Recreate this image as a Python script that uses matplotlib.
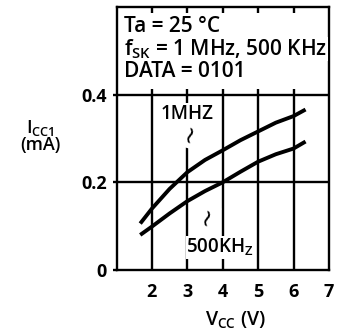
import matplotlib
matplotlib.use('Agg')
import matplotlib.pyplot as plt

plt.rcParams['font.family'] = ['Open Sans', 'DejaVu Sans']

# values
vcc = [1.67, 2.0, 2.5, 3.0, 3.5, 4.0, 4.5, 5.0, 5.5, 6.0, 6.34]
icc_1mhz = [0.106, 0.140, 0.185, 0.223, 0.251, 0.273, 0.296, 0.316, 0.336, 0.351, 0.366]
icc_500khz = [0.080, 0.099, 0.129, 0.157, 0.180, 0.200, 0.224, 0.247, 0.264, 0.277, 0.293]
xticks = [2, 3, 4, 5, 6, 7]
yticks = [0, 0.2, 0.4]
ytick_labels = ['0', '0.2', '0.4']
conditions = ['Ta = 25 °C', r'f$_{\mathregular{SK}}$ = 1 MHz, 500 KHz', 'DATA = 0101']

fig = plt.figure(figsize=(3.37, 3.36), dpi=100)
ax = fig.add_axes([0.3457, 0.1964, 0.6303, 0.783])
ax.set_xlim(1, 7)
ax.set_ylim(0, 0.6)

# grid: vertical lines only below 0.4, short marks above it and under the top edge
ax.vlines(xticks[:-1], 0, 0.413, color='black', lw=1.7, zorder=1)
ax.vlines(xticks[:-1], 0.587, 0.6, color='black', lw=1.7, zorder=1)
ax.hlines([0.2, 0.4], 1, 7, color='black', lw=1.7, zorder=1)

ax.plot(vcc, icc_1mhz, color='black', lw=2.8, solid_capstyle='butt', zorder=3)
ax.plot(vcc, icc_500khz, color='black', lw=2.8, solid_capstyle='butt', zorder=3)

for s in ax.spines.values():
    s.set_linewidth(1.7)

ax.set_xticks(xticks)
ax.set_yticks(yticks)
ax.set_yticklabels(ytick_labels)
ax.tick_params(axis='x', length=0, pad=9, labelsize=13)
ax.tick_params(axis='y', length=3, width=1.7, pad=4, labelsize=13)
for lab in ax.get_xticklabels() + ax.get_yticklabels():
    lab.set_fontweight('bold')

bb = dict(facecolor='white', edgecolor='none', pad=0.5)
for i, line in enumerate(conditions):
    ax.text(1.22, 0.556 - i * 0.052, line, fontsize=15, fontweight='semibold',
            va='center', ha='left', bbox=bb, zorder=4)

ax.text(3.0, 0.356, '1MHZ', fontsize=13.5, fontweight='semibold', ha='center',
        va='center', bbox=bb, zorder=4)
ax.text(3.06, 0.312, '~', fontsize=17, rotation=75, ha='center', va='center',
        family='DejaVu Sans', bbox=dict(facecolor='white', edgecolor='none', pad=3.5),
        zorder=3.5)
ax.text(3.54, 0.124, '~', fontsize=17, rotation=75, ha='center', va='center',
        family='DejaVu Sans', bbox=bb, zorder=4)
ax.text(3.93, 0.052, r'500KH$_{\mathregular{Z}}$', fontsize=13.5, fontweight='semibold',
        ha='center', va='center', bbox=bb, zorder=4)

fig.text(0.12, 0.595, r'I$_{\mathregular{CC1}}$' + '\n(mA)', fontsize=13, ha='center',
         va='center', linespacing=0.9, fontweight='semibold')
fig.text(0.70, 0.048, r'V$_{\mathregular{CC}}$ (V)', fontsize=14, ha='center', va='center',
         fontweight='semibold')

fig.savefig('out.png', dpi=100)
